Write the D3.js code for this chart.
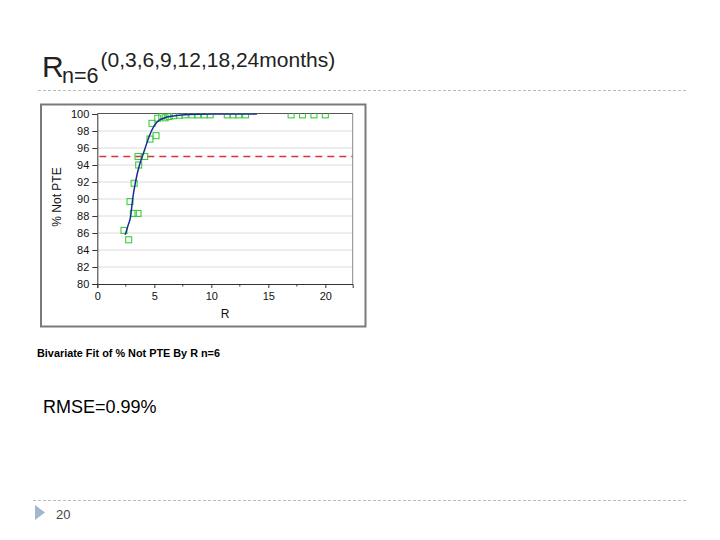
<!DOCTYPE html>
<html>
<head>
<meta charset="utf-8">
<script src="https://cdn.jsdelivr.net/npm/d3@7"></script>
<style>
  html, body { margin: 0; padding: 0; background: #fff; }
  svg { display: block; font-family: "Liberation Sans", Arial, sans-serif; }
</style>
</head>
<body>
<svg id="chart" width="720" height="540"></svg>
<script>
// ---- data ----
const pointR   = [2.34, 2.75, 2.87, 3.16, 3.57, 3.23, 3.63, 3.57, 4.16, 4.62, 5.15, 4.8, 5.3, 5.65, 5.95, 6.3, 6.7, 7.2, 7.7, 8.3, 8.8, 9.4, 9.9, 11.4, 11.9, 12.4, 13.0, 17.0, 18.0, 19.0, 20.0];
const pointPct = [86.3, 85.2, 89.7, 88.3, 88.3, 91.85, 94.0, 95.0, 95.0, 97.05, 97.45, 98.9, 99.5, 99.75, 99.55, 99.7, 99.8, 99.85, 99.9, 99.9, 99.9, 99.9, 99.9, 99.9, 99.9, 99.9, 99.9, 99.9, 99.9, 99.9, 99.9];
const fitR   = [2.45, 2.7, 2.93, 3.1, 3.35, 3.7, 3.95, 4.2, 4.45, 4.75, 5.2, 5.8, 6.8, 8.0, 10.0, 12.0, 14.0];
const fitPct = [85.8, 86.9, 88.0, 90.0, 92.0, 94.0, 95.0, 96.0, 97.0, 98.0, 99.0, 99.5, 99.8, 99.95, 100, 100, 100];
const threshold = [95];
const xTicks = [0, 5, 10, 15, 20];
const xMinorTicks = [2.5, 7.5, 12.5, 17.5];
const yTicks = [80, 82, 84, 86, 88, 90, 92, 94, 96, 98, 100];
const xDomain = [0, 22.4];
const yDomain = [80, 100];

const svg = d3.select("#chart");
svg.append("rect").attr("width", 720).attr("height", 540).attr("fill", "#fff");

// ---- slide title ----
svg.append("text").attr("x", 42).attr("y", 77).attr("font-size", 30).attr("fill", "#222").text("R");
svg.append("text").attr("x", 62).attr("y", 82.5).attr("font-size", 21.5).attr("fill", "#222").text("n=6");
svg.append("text").attr("x", 100.5).attr("y", 67).attr("font-size", 21).attr("fill", "#222").text("(0,3,6,9,12,18,24months)");

// dashed separator lines
svg.append("line").attr("x1", 38).attr("x2", 686).attr("y1", 90.5).attr("y2", 90.5)
  .attr("stroke", "#bbb").attr("stroke-width", 1).attr("stroke-dasharray", "3,2");
svg.append("line").attr("x1", 33).attr("x2", 686).attr("y1", 500.5).attr("y2", 500.5)
  .attr("stroke", "#bbb").attr("stroke-width", 1).attr("stroke-dasharray", "3,2");

// ---- chart frame ----
svg.append("rect").attr("x", 41).attr("y", 104.5).attr("width", 324.5).attr("height", 222)
  .attr("fill", "#fff").attr("stroke", "#7a7a7a").attr("stroke-width", 2);

const x = d3.scaleLinear().domain(xDomain).range([97.3, 352.7]);
const y = d3.scaleLinear().domain(yDomain).range([284, 114]);

const defs = svg.append("defs");
defs.append("clipPath").attr("id", "plotclip").append("rect")
  .attr("x", x(xDomain[0])).attr("y", 113.5).attr("width", x(xDomain[1]) - x(xDomain[0])).attr("height", 284 - 113.5);

// gridlines
svg.append("g").selectAll("line").data(yTicks.filter(v => v > 80 && v < 100)).join("line")
  .attr("x1", x(xDomain[0])).attr("x2", x(xDomain[1]))
  .attr("y1", d => y(d)).attr("y2", d => y(d))
  .attr("stroke", "#dcdcdc").attr("stroke-width", 1);

// plot frame top/right
svg.append("line").attr("x1", x(xDomain[0])).attr("x2", x(xDomain[1])).attr("y1", 113.5).attr("y2", 113.5)
  .attr("stroke", "#555").attr("stroke-width", 1);
svg.append("line").attr("x1", x(xDomain[1])).attr("x2", x(xDomain[1])).attr("y1", 113.5).attr("y2", 284)
  .attr("stroke", "#888").attr("stroke-width", 1);

const plot = svg.append("g").attr("clip-path", "url(#plotclip)");

// threshold line
plot.selectAll("line.thr").data(threshold).join("line").attr("class", "thr")
  .attr("x1", x(xDomain[0]) + 2).attr("x2", x(xDomain[1]))
  .attr("y1", d => y(d)).attr("y2", d => y(d))
  .attr("stroke", "#d8363a").attr("stroke-width", 1.3).attr("stroke-dasharray", "7,5");

// points
const sq = 6;
plot.selectAll("rect.pt").data(pointR.map((r, i) => [r, pointPct[i]])).join("rect").attr("class", "pt")
  .attr("x", d => x(d[0]) - sq / 2).attr("y", d => y(d[1]) - sq / 2)
  .attr("width", sq).attr("height", sq)
  .attr("fill", "none").attr("stroke", "#3fcc3f").attr("stroke-width", 1.1);

// fit curve
const line = d3.line().x(d => x(d[0])).y(d => y(d[1])).curve(d3.curveMonotoneX);
plot.append("path").datum(fitR.map((r, i) => [r, fitPct[i]]))
  .attr("d", line).attr("fill", "none").attr("stroke", "#1c2a9a").attr("stroke-width", 1.5);

// axes
const yAxis = d3.axisLeft(y).tickValues(yTicks).tickSize(5).tickPadding(3).tickFormat(d3.format("d"));
const gy = svg.append("g").attr("transform", `translate(${x(xDomain[0])},0)`).call(yAxis);
gy.select(".domain").attr("stroke", "#333");
gy.selectAll(".tick line").attr("stroke", "#333");
gy.selectAll("text").attr("font-size", 11).attr("fill", "#111").attr("font-family", "Liberation Sans, Arial, sans-serif");

const xAxis = d3.axisBottom(x).tickValues(xTicks).tickSize(4).tickPadding(4).tickFormat(d3.format("d"));
const gx = svg.append("g").attr("transform", `translate(0,284)`).call(xAxis);
gx.select(".domain").attr("stroke", "#333");
gx.selectAll(".tick line").attr("stroke", "#333");
gx.selectAll("text").attr("font-size", 11).attr("fill", "#111").attr("font-family", "Liberation Sans, Arial, sans-serif");
svg.append("g").selectAll("line").data(xMinorTicks).join("line")
  .attr("x1", d => x(d)).attr("x2", d => x(d)).attr("y1", 284).attr("y2", 286.5)
  .attr("stroke", "#333");

svg.append("text").attr("x", (x(xDomain[0]) + x(xDomain[1])) / 2).attr("y", 318)
  .attr("text-anchor", "middle").attr("font-size", 12).attr("fill", "#111").text("R");
svg.append("text").attr("transform", "translate(60.5,197) rotate(-90)")
  .attr("text-anchor", "middle").attr("font-size", 12).attr("fill", "#111").text("% Not PTE");

// captions
svg.append("text").attr("x", 37).attr("y", 356.5).attr("font-size", 10.5).attr("font-weight", "bold")
  .attr("fill", "#000").attr("textLength", 183).attr("lengthAdjust", "spacingAndGlyphs")
  .text("Bivariate Fit of % Not PTE By R n=6");
svg.append("text").attr("x", 43).attr("y", 412.5).attr("font-size", 18).attr("fill", "#000").text("RMSE=0.99%");

// footer bullet & page number
svg.append("path").attr("d", "M35,505 L45,512.5 L35,520 Z").attr("fill", "#a3b6cc");
svg.append("text").attr("x", 56).attr("y", 519).attr("font-size", 13).attr("fill", "#444").text("20");
</script>
</body>
</html>
